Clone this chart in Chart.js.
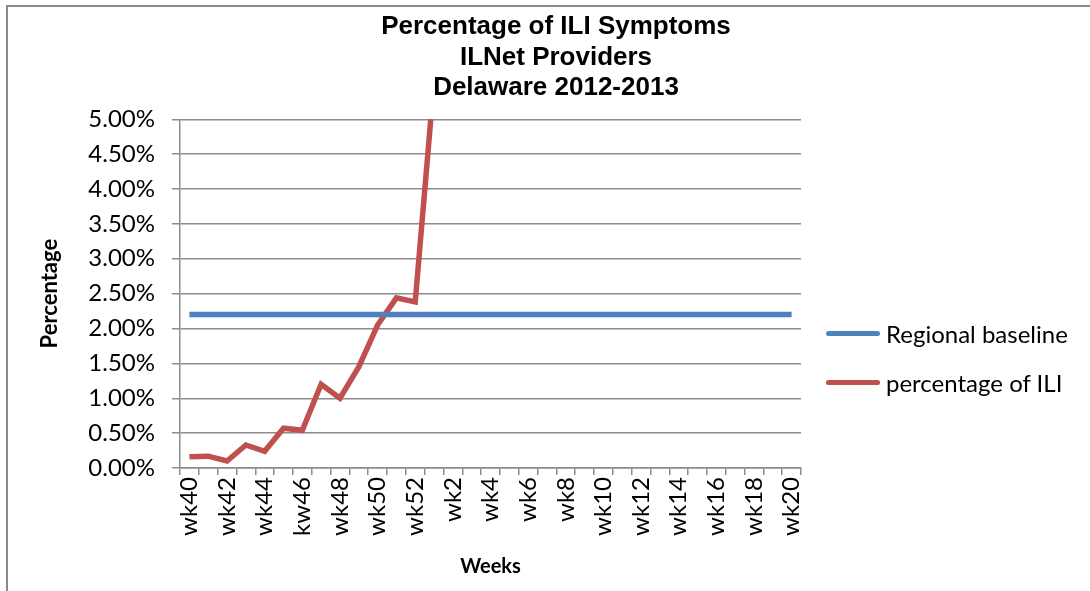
<!DOCTYPE html>
<html>
<head>
<meta charset="utf-8">
<script src="https://cdn.jsdelivr.net/npm/chart.js@4.4.1/dist/chart.umd.min.js"></script>
<style>
  html, body { margin: 0; padding: 0; background: #fff; overflow: hidden; }
  #frame { position: absolute; left: 6px; top: 5px; width: 1200px; height: 700px;
           border-top: 2px solid #898989; border-left: 2px solid #898989; }
  #wrap  { position: absolute; left: 0; top: 0; width: 1090px; height: 591px; }
  #legend { position: absolute; left: 826px; top: 317px; font-family: Lato, 'Noto Sans', sans-serif;
            font-size: 24px; color: #000; }
  .leg-item { display: flex; align-items: center; height: 32px; margin-bottom: 17px; white-space: nowrap; }
  .leg-line { width: 54px; height: 5px; border-radius: 3px; margin-right: 6px; }
</style>
</head>
<body>
<div id="frame"></div>
<div id="wrap"><canvas id="iliChart" width="1090" height="591"></canvas></div>
<div id="legend"></div>
<script>
// ── dados ──────────────────────────────────────────────────
const WEEKS = [
  'wk40', 'wk41', 'wk42', 'wk43', 'wk44', 'wk45', 'kw46', 'wk47', 'wk48', 'wk49', 'wk50', 'wk51', 'wk52',
  'wk1', 'wk2', 'wk3', 'wk4', 'wk5', 'wk6', 'wk7', 'wk8', 'wk9', 'wk10',
  'wk11', 'wk12', 'wk13', 'wk14', 'wk15', 'wk16', 'wk17', 'wk18', 'wk19', 'wk20',
];
const BASELINE = WEEKS.map(() => 2.2);
const ILI_PCT  = [0.16, 0.17, 0.10, 0.33, 0.24, 0.57, 0.54, 1.20, 1.00, 1.45, 2.05, 2.44, 2.38, 5.55];
const Y_TICKS  = [0, 0.5, 1, 1.5, 2, 2.5, 3, 3.5, 4, 4.5, 5];

const SERIES = [
  { label: 'Regional baseline', data: BASELINE, color: '#4F81BD' },
  { label: 'percentage of ILI', data: ILI_PCT,  color: '#C0504D' },
];

const TICK_FONT  = { family: "Lato, 'Noto Sans', sans-serif", size: 24 };
const GRID_COLOR = '#8c8c8c';

function renderChart() {
  new Chart(document.getElementById('iliChart'), {
    type: 'line',
    data: {
      labels: WEEKS,
      datasets: SERIES.map(s => ({
        label: s.label,
        data: s.data,
        borderColor: s.color,
        backgroundColor: s.color,
        borderWidth: 5.5,
        pointRadius: 0,
        tension: 0,
        clip: 0,
        spanGaps: false,
      })),
    },
    options: {
      responsive: false,
      animation: false,
      layout: { padding: { left: 22, right: 0, top: 0, bottom: 0 } },
      plugins: {
        legend: { display: false },
        tooltip: { enabled: false },
        title: {
          display: true,
          text: ['Percentage of ILI Symptoms', 'ILNet Providers', 'Delaware 2012-2013'],
          color: '#000',
          font: { family: "'Liberation Sans', Arial, sans-serif", size: 26, weight: 'bold', lineHeight: 1.17 },
          padding: { top: 12, bottom: 16 },
        },
      },
      scales: {
        x: {
          offset: true,
          grid: { offset: true, drawOnChartArea: false, drawTicks: true, tickLength: 7, color: GRID_COLOR, lineWidth: 1.5 },
          border: { color: GRID_COLOR, width: 1.5 },
          ticks: {
            autoSkip: false, maxRotation: 90, minRotation: 90, padding: 2,
            font: TICK_FONT, color: '#000',
            callback: (v, i) => (i % 2 === 0 ? WEEKS[i] : ''),
          },
          title: {
            display: true, text: 'Weeks', color: '#000',
            font: { family: "Lato, 'Noto Sans', sans-serif", size: 20, weight: 'bold' },
            padding: { top: 0, bottom: 12 },
          },
          afterFit: s => { s.height = 123; },
        },
        y: {
          min: 0, max: 5,
          afterBuildTicks: s => { s.ticks = Y_TICKS.map(v => ({ value: v })); },
          grid: { color: GRID_COLOR, lineWidth: 1.5, tickLength: 8 },
          border: { color: GRID_COLOR, width: 1.5 },
          ticks: { font: TICK_FONT, color: '#000', padding: 17, callback: v => v.toFixed(2) + '%' },
          title: {
            display: true, text: 'Percentage', color: '#000',
            font: { family: "Lato, 'Noto Sans', sans-serif", size: 22, weight: 'bold' },
            padding: { top: 15, bottom: 0 },
          },
          afterFit: s => { s.width = 158; },
        },
        // espaço à direita para a legenda
        yPad: {
          position: 'right', display: true,
          grid: { display: false }, border: { display: false }, ticks: { display: false },
          afterFit: s => { s.width = 289; },
        },
      },
    },
  });

  document.getElementById('legend').innerHTML = SERIES
    .map(s => `<div class="leg-item"><div class="leg-line" style="background:${s.color}"></div>${s.label}</div>`)
    .join('');
}

renderChart();
</script>
</body>
</html>
